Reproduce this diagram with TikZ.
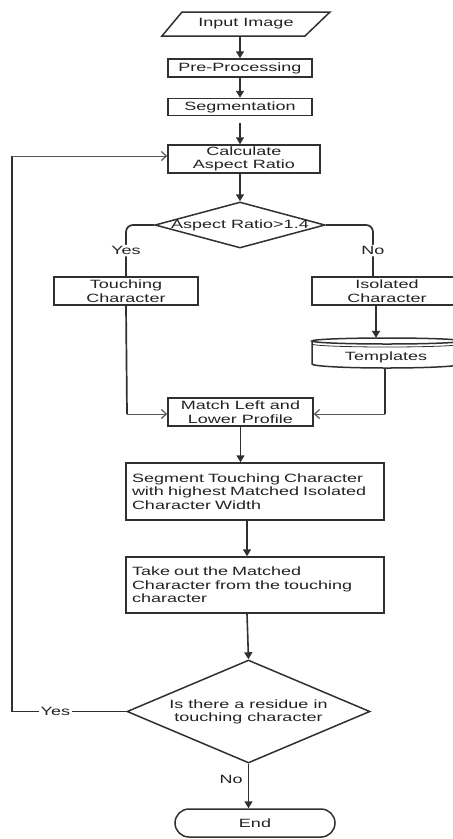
\documentclass[tikz,border=0pt]{standalone}
\usepackage{fontspec}
\setmainfont[FakeStretch=1.5]{Liberation Sans}
\usetikzlibrary{shapes.geometric,arrows.meta}
\definecolor{lc}{HTML}{303030}
\definecolor{hc}{HTML}{555555}
\definecolor{tc}{HTML}{222222}
\begin{document}
\begin{tikzpicture}[x=1pt,y=-1pt,
  font=\fontsize{12}{13.5}\selectfont,
  box/.style={draw=lc, line width=1.5pt, text=tc, inner sep=0pt, align=center},
  plain/.style={text=tc, inner sep=0pt, align=center},
  lbl/.style={text=tc, fill=white, inner sep=1.5pt},
  vline/.style={draw=lc, line width=1.7pt},
  darr/.style={draw=lc, line width=1.6pt, -{Triangle[length=7pt,width=8pt]}},
  harr/.style={draw=hc, line width=1pt, -{Straight Barb[length=5pt,width=9pt,line width=1.2pt]}},
  hline/.style={draw=lc, line width=1.3pt}
]
\useasboundingbox (0,0) rectangle (453,839);
% Input
\node[plain, minimum width=150pt, minimum height=24pt] (in) at (246,24) {Input Image};
\draw[box] (162,36) -- (182,12) -- (330,12) -- (305,36) -- cycle;
\node[box, minimum width=144pt, minimum height=18pt] (pre) at (240,68) {Pre-Processing};
\node[box, minimum width=144pt, minimum height=17pt] (seg) at (240,107) {Segmentation};
\node[box, minimum width=152pt, minimum height=28pt] (calc) at (244,159) {Calculate\\Aspect Ratio};
\node[draw=lc, line width=1.5pt, diamond, minimum width=170pt, minimum height=46pt, inner sep=0pt] (d1) at (240,225) {};
\node[plain] (d1t) at (240,225) {Aspect Ratio>1.4};
\node[box, minimum width=144pt, minimum height=28pt] (touch) at (126,291) {Touching\\Character};
\node[box, minimum width=150pt, minimum height=28pt] (iso) at (387,291) {Isolated\\Character};
% Templates
\node[plain, minimum width=150pt, minimum height=30pt] (tmpl) at (387,353) {};
\node[plain] (tmplt) at (386,357) {Templates};
\draw[box] (312,341) -- (312,364) arc[start angle=180, end angle=360, x radius=75pt, y radius=4pt] -- (462,341);
\draw[box] (387,341) ellipse[x radius=75pt, y radius=3pt];
\draw[draw=lc, line width=0.8pt] (312,344) arc[start angle=180, end angle=360, x radius=75pt, y radius=3pt];
\node[box, minimum width=145pt, minimum height=28pt] (match) at (240.5,412) {Match Left and\\Lower Profile};
\node[box, minimum width=258pt, minimum height=57pt, text width=246pt, align=left, inner xsep=6pt] (segm) at (255,491.5) {Segment Touching Character\\with highest Matched Isolated\\Character Width};
\node[box, minimum width=258pt, minimum height=56pt, text width=246pt, align=left, inner xsep=6pt] (take) at (255,585) {Take out the Matched\\Character from the touching\\character};
\node[draw=lc, line width=1.5pt, diamond, minimum width=243pt, minimum height=103pt, inner sep=0pt] (d2) at (248.5,711.5) {};
\node[plain] (d2t) at (248.5,712) {Is there a residue in\\touching character};
\node[box, rounded corners=14pt, minimum width=160pt, minimum height=28pt] (end) at (255,823) {End};
% coordinates
\coordinate (lp) at (12,156);
\coordinate (lm) at (127,414);
\coordinate (rm) at (385,414);
% connectors
\draw[darr] (in.south -| pre.north) -- (pre.north);
\draw[darr] (pre.south) -- (seg.north);
\draw[darr] ([yshift=-7pt]seg.south) -- (seg.south |- calc.north);
\draw[darr] (calc.south -| d1.north) -- (d1.north);
\draw[vline, rounded corners=7pt] (d1.west) -| node[lbl, pos=0.75] (yes1) {Yes} (touch.north);
\draw[vline, rounded corners=7pt] (d1.east) -| node[lbl, pos=0.75] (no1) {No} ([xshift=-14pt]iso.north);
\draw[darr] ([xshift=-11pt]iso.south) -- ([xshift=-11pt]tmpl.north);
\draw[vline] (touch.south) -- (lm);
\draw[harr] (lm) -- (lm -| match.west);
\draw[vline] ([xshift=-2pt]tmpl.south) -- (rm);
\draw[harr] (rm) -- (rm -| match.east);
\draw[darr] (match.south) -- (match.south |- segm.north);
\draw[darr] ([xshift=-8pt]segm.south) -- ([xshift=-8pt]take.north);
\draw[darr] ([xshift=-8pt]take.south) -- (d2.north);
\draw[hline] (d2.west) -- node[lbl, pos=0.62] (yes2) {Yes} (d2.west -| lp);
\draw[vline, line width=2pt] (lp |- d2.west) -- (lp);
\draw[harr] (lp) -- (lp -| calc.west);
\draw[darr] (d2.south) -- node[plain, left=5pt, pos=0.35] (no2) {No} (d2.south |- end.north);
\end{tikzpicture}
\end{document}
